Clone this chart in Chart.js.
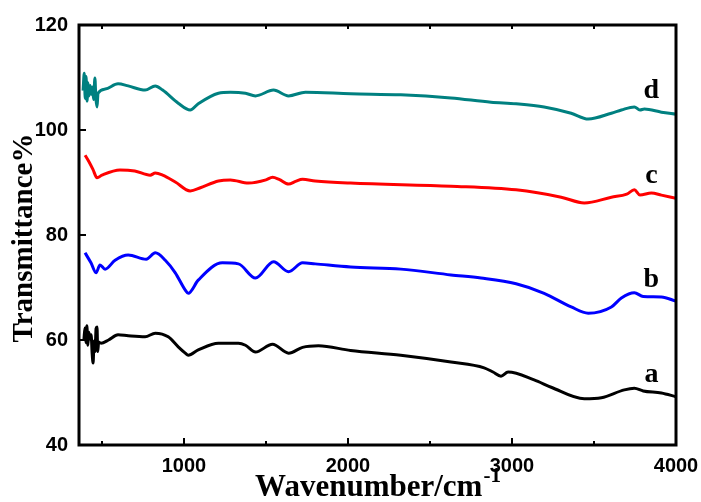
<!DOCTYPE html>
<html>
<head>
<meta charset="utf-8">
<script src="https://cdn.jsdelivr.net/npm/chart.js@4/dist/chart.umd.min.js"></script>
<style>
  html, body { margin: 0; padding: 0; background: #fff; }
  #wrap { width: 701px; height: 502px; }
</style>
</head>
<body>
<div id="wrap"><canvas id="myChart" width="701" height="502"></canvas></div>
<script>
// wavenumber (cm-1) / transmittance (%)
const aX = [390, 396, 402, 408, 414, 420, 428, 434, 440, 446, 452, 458, 464, 470, 474, 480, 494, 540, 598, 660, 763, 825, 904, 965, 1008, 1026, 1087, 1210, 1332, 1375, 1436, 1540, 1638, 1723, 1820, 2016, 2322, 2628, 2830, 2884, 2933, 2976, 3135, 3239, 3441, 3545, 3685, 3746, 3800, 3911, 4000];
const aY = [60.0, 62.3, 59.5, 62.7, 59.0, 61.5, 60.2, 61.0, 57.5, 55.6, 59.8, 57.8, 62.2, 62.5, 57.8, 59.6, 59.4, 60.0, 61.0, 60.8, 60.6, 61.3, 60.6, 58.7, 57.5, 57.1, 58.1, 59.4, 59.4, 59.0, 57.7, 59.2, 57.5, 58.6, 58.9, 58.0, 57.1, 55.8, 54.7, 53.9, 53.1, 53.9, 52.4, 51.0, 48.8, 49.0, 50.5, 50.8, 50.3, 49.9, 49.2];

const bX = [397, 433, 464, 488, 519, 580, 660, 770, 825, 886, 947, 1008, 1026, 1087, 1234, 1332, 1436, 1546, 1638, 1723, 1800, 2016, 2322, 2628, 2811, 3025, 3196, 3361, 3465, 3606, 3667, 3746, 3800, 3911, 4000];
const bY = [76.6, 74.7, 72.8, 74.3, 73.5, 75.2, 76.2, 75.4, 76.6, 75.2, 72.8, 69.5, 68.9, 71.4, 74.7, 74.5, 71.8, 74.9, 73.0, 74.7, 74.5, 73.9, 73.5, 72.4, 71.8, 70.7, 68.9, 66.3, 65.1, 66.3, 68.0, 69.0, 68.3, 68.2, 67.4];

const cX = [397, 420, 445, 470, 500, 610, 700, 794, 825, 870, 947, 1038, 1100, 1210, 1283, 1393, 1500, 1540, 1580, 1638, 1680, 1723, 1800, 2016, 2628, 3025, 3300, 3441, 3606, 3700, 3746, 3780, 3850, 3911, 4000];
const cY = [95.2, 94.0, 92.5, 90.9, 91.4, 92.4, 92.2, 91.4, 91.8, 91.4, 90.1, 88.4, 89.0, 90.3, 90.5, 89.9, 90.5, 91.0, 90.6, 89.7, 90.2, 90.6, 90.3, 89.9, 89.3, 88.6, 87.2, 86.1, 87.2, 87.8, 88.6, 87.6, 88.0, 87.6, 87.0];

const dX = [385, 392, 398, 403, 409, 415, 421, 428, 435, 442, 449, 457, 463, 470, 476, 520, 598, 660, 763, 825, 870, 965, 1038, 1087, 1210, 1283, 1375, 1436, 1546, 1638, 1741, 2016, 2322, 2628, 2872, 3025, 3196, 3361, 3465, 3606, 3667, 3746, 3780, 3807, 3911, 4000];
const dY = [107.5, 110.8, 106.0, 110.2, 105.5, 109.0, 106.5, 108.5, 106.8, 108.2, 105.8, 109.9, 106.0, 104.4, 107.0, 107.8, 108.8, 108.4, 107.6, 108.4, 107.6, 105.1, 103.8, 105.0, 107.0, 107.2, 107.0, 106.5, 107.6, 106.5, 107.2, 106.9, 106.7, 106.1, 105.3, 105.0, 104.4, 103.2, 102.1, 103.2, 103.8, 104.4, 103.8, 104.0, 103.4, 103.0];

const seriesNames = ["a", "b", "c", "d"];
const seriesColors = ["#000000", "#0000ff", "#ff0000", "#008080"];
// where each letter sits, in data units (wavenumber, transmittance)
const nameX = [3850, 3850, 3850, 3850];
const nameY = [52.0, 70.1, 89.9, 106.1];

const xMajor = [1000, 2000, 3000, 4000];
const xMinor = [500, 1500, 2500, 3500];
const yMajor = [40, 60, 80, 100, 120];

const toPoints = (xs, ys) => xs.map((x, i) => ({ x: x, y: ys[i] }));
const seriesData = [toPoints(aX, aY), toPoints(bX, bY), toPoints(cX, cY), toPoints(dX, dY)];

const serif = "'Liberation Serif', 'Times New Roman', serif";
const sans = "'Liberation Sans', Arial, sans-serif";

// frame, inward ticks, axis titles and curve letters
const decorPlugin = {
  id: "decor",
  afterDraw(chart) {
    const c = chart.ctx;
    const area = chart.chartArea;
    const xs = chart.scales.x;
    const ys = chart.scales.y;
    c.save();
    c.strokeStyle = "#000";
    c.lineWidth = 3;
    c.lineCap = "butt";
    c.strokeRect(area.left, area.top, area.right - area.left, area.bottom - area.top);

    c.lineWidth = 2;
    c.beginPath();
    xMajor.forEach((v) => {
      const px = Math.round(xs.getPixelForValue(v));
      c.moveTo(px, area.bottom); c.lineTo(px, area.bottom - 7);
      c.moveTo(px, area.top); c.lineTo(px, area.top + 4);
    });
    xMinor.forEach((v) => {
      const px = Math.round(xs.getPixelForValue(v));
      c.moveTo(px, area.bottom); c.lineTo(px, area.bottom - 4);
      c.moveTo(px, area.top); c.lineTo(px, area.top + 4);
    });
    yMajor.forEach((v) => {
      const py = Math.round(ys.getPixelForValue(v));
      c.moveTo(area.left, py); c.lineTo(area.left + 7, py);
    });
    c.stroke();

    // x title with superscript
    c.fillStyle = "#000";
    c.textBaseline = "alphabetic";
    const main = "Wavenumber/cm";
    c.font = "bold 21px " + serif;
    const supW = c.measureText("-1").width;
    c.font = "bold 31px " + serif;
    const mainW = c.measureText(main).width;
    const cx = (area.left + area.right) / 2;
    const startX = cx - (mainW + supW) / 2;
    c.textAlign = "left";
    c.fillText(main, startX, 496);
    c.font = "bold 21px " + serif;
    c.fillText("-1", startX + mainW + 1, 482);

    // y title
    c.font = "bold 29px " + serif;
    c.translate(32, 238);
    c.rotate(-Math.PI / 2);
    c.textAlign = "center";
    c.fillText("Transmittance%", 0, 0);
    c.restore();

    c.save();
    c.fillStyle = "#000";
    c.font = "bold 28px " + serif;
    c.textAlign = "center";
    c.textBaseline = "alphabetic";
    seriesNames.forEach((n, i) => {
      c.fillText(n, xs.getPixelForValue(nameX[i]), ys.getPixelForValue(nameY[i]));
    });
    c.restore();
  },
};

const ctx = document.getElementById("myChart").getContext("2d");
const myChart = new Chart(ctx, {
  type: "line",
  data: {
    datasets: seriesData.map((pts, i) => ({
      label: seriesNames[i],
      data: pts,
      borderColor: seriesColors[i],
      borderWidth: 3,
      pointRadius: 0,
      fill: false,
      cubicInterpolationMode: "monotone",
    })),
  },
  options: {
    responsive: false,
    animation: false,
    layout: { padding: { left: 0, top: 25, right: 25, bottom: 0 } },
    plugins: { legend: { display: false }, tooltip: { enabled: false } },
    scales: {
      x: {
        type: "linear",
        min: 360,
        max: 4000,
        grid: { display: false, drawTicks: false },
        border: { display: false },
        afterBuildTicks: (scale) => { scale.ticks = xMajor.map((v) => ({ value: v })); },
        afterFit: (scale) => {
          scale.height = 57;
          scale.paddingLeft = 0;
          scale.paddingRight = 0;
        },
        ticks: {
          padding: 9,
          maxRotation: 0,
          color: "#000",
          font: { family: sans, size: 20, weight: "bold" },
          callback: (v) => String(v),
        },
      },
      y: {
        type: "linear",
        min: 40,
        max: 120,
        grid: { display: false, drawTicks: false },
        border: { display: false },
        afterBuildTicks: (scale) => { scale.ticks = yMajor.map((v) => ({ value: v })); },
        afterFit: (scale) => {
          scale.width = 79;
          scale.paddingTop = 0;
          scale.paddingBottom = 0;
        },
        ticks: {
          padding: 11,
          color: "#000",
          font: { family: sans, size: 20, weight: "bold" },
          callback: (v) => String(v),
        },
      },
    },
  },
  plugins: [decorPlugin],
});
</script>
</body>
</html>
